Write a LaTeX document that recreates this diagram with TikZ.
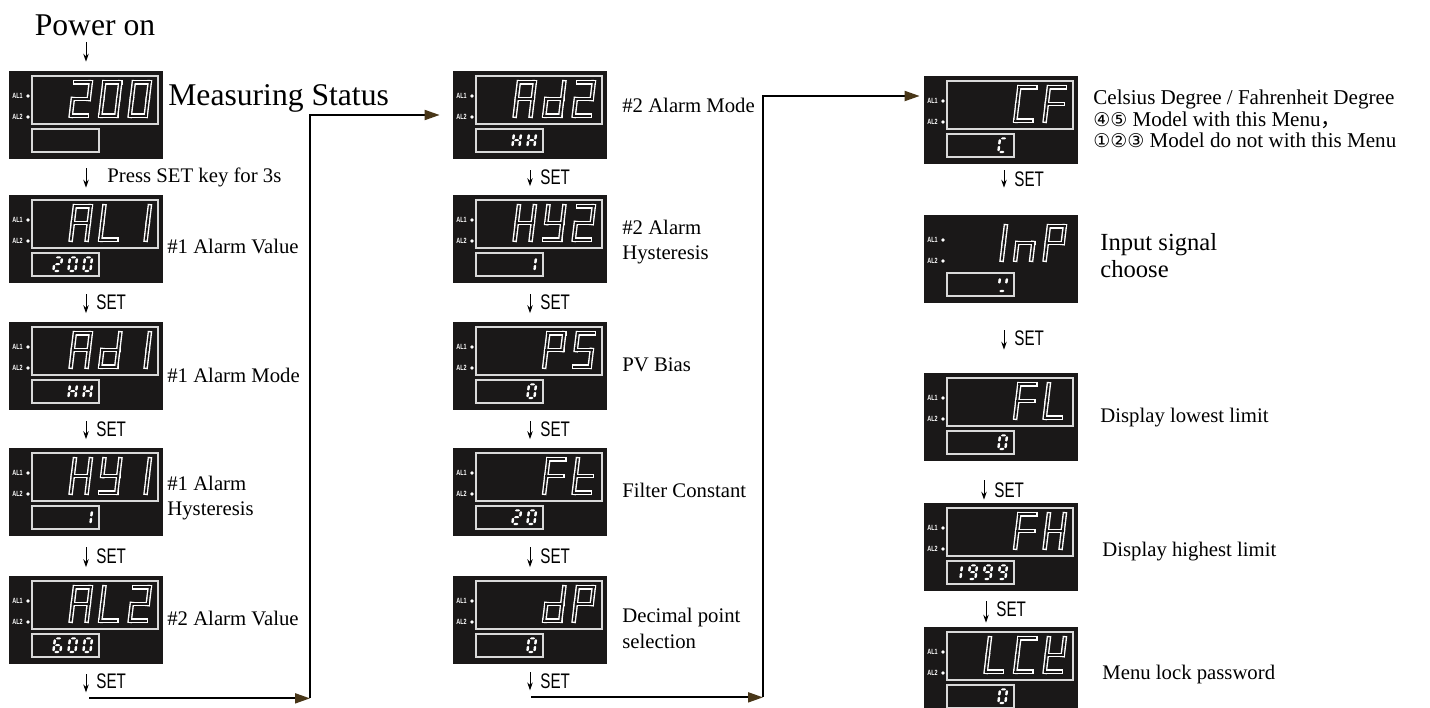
\documentclass[tikz,border=0pt]{standalone}
\usepackage{fontspec}
\setmainfont{Liberation Serif}
\newfontfamily\setfont[FakeStretch=0.72]{Liberation Sans}
\newfontfamily\circfont[Scale=0.9]{DejaVu Sans}
\newfontfamily\cjk{Noto Sans CJK SC}
\usepackage{tikz}
\usetikzlibrary{arrows.meta,positioning}
\definecolor{tipbrown}{RGB}{72,54,24}
\definecolor{panelblack}{RGB}{26,24,24}

% seven segment pieces, drawn on a 10 x 20 grid
% small digits: solid segments
\newcommand\hseg[3]{\fill[segm] (#1,#3) -- (#1+1.3,#3+1.3) -- (#2-1.3,#3+1.3) -- (#2,#3) -- (#2-1.3,#3-1.3) -- (#1+1.3,#3-1.3) -- cycle;}
\newcommand\vseg[3]{\fill[segm] (#1,#2) -- (#1+1.3,#2+1.3) -- (#1+1.3,#3-1.3) -- (#1,#3) -- (#1-1.3,#3-1.3) -- (#1-1.3,#2+1.3) -- cycle;}
\newcommand\dsega{\hseg{2.3}{7.7}{18.7}}
\newcommand\dsegb{\vseg{8.7}{10.8}{17.7}}
\newcommand\dsegc{\vseg{8.7}{2.3}{9.2}}
\newcommand\dsegd{\hseg{2.3}{7.7}{1.3}}
\newcommand\dsege{\vseg{1.3}{2.3}{9.2}}
\newcommand\dsegf{\vseg{1.3}{10.8}{17.7}}
\newcommand\dsegg{\hseg{2.3}{7.7}{10}}
% big digits: hollow strokes
\newcommand\bseg[4]{\draw[segm] (#1,#2) -- (#3,#4);}
\newcommand\bsega{\bseg{1.2}{18.8}{8.8}{18.8}}
\newcommand\bsegb{\bseg{8.8}{10}{8.8}{18.8}}
\newcommand\bsegc{\bseg{8.8}{1.2}{8.8}{10}}
\newcommand\bsegd{\bseg{1.2}{1.2}{8.8}{1.2}}
\newcommand\bsege{\bseg{1.2}{1.2}{1.2}{10}}
\newcommand\bsegf{\bseg{1.2}{10}{1.2}{18.8}}
\newcommand\bsegg{\bseg{1.2}{10}{8.8}{10}}
\newcommand\bigd[4]{\begin{scope}[shift={({#1+59+29.5*(#3-1)},{#2+47})},xslant=0.12,xscale=2.1,yscale=-1.9]
 \tikzset{segm/.style=bigouter}\foreach \s in {#4}{\csname bseg\s\endcsname}
 \tikzset{segm/.style=biginner}\foreach \s in {#4}{\csname bseg\s\endcsname}
 \end{scope}}
\newcommand\smalld[4]{\begin{scope}[shift={({#1+28+15*(#3-1)},{#2+77})},xslant=0.12,xscale=0.95,yscale=-0.78,segm/.style=smallseg]
 \foreach \s in {#4}{\csname dseg\s\endcsname}
 \end{scope}}
% panel: name, left, top, upper frame (1/0)
\newcommand\panel[4]{%
 \node[panel] (#1) at (#2+77,#3+44) {};
 \ifnum#4=1 \draw[frame] (#2+23,#3+5) rectangle (#2+149,#3+53);\fi
 \draw[frame] (#2+23,#3+58) rectangle (#2+90,#3+81);
 \node[tag] at (#2+8.5,#3+25) {AL1};
 \node[tag] at (#2+8.5,#3+46) {AL2};
 \fill[white] (#2+19,#3+25) circle[radius=0.38mm] (#2+19,#3+46) circle[radius=0.38mm];}

\begin{document}
\begin{tikzpicture}[
 x=0.2mm,y=-0.2mm,
 panel/.style={fill=panelblack,minimum width=30.8mm,minimum height=17.6mm,inner sep=0},
 frame/.style={draw=white!85!black,line width=0.75pt},
 bigouter/.style={draw=white,line width=2.6pt,line cap=rect},
 biginner/.style={draw=panelblack,line width=1pt,line cap=rect},
 smallseg/.style={fill=white},
 tag/.style={text=white,font=\setfont\bfseries\fontsize{4.3}{5}\selectfont,inner sep=0},
 lbl/.style={anchor=west,inner sep=0,align=left,font=\fontsize{11.8}{14.7}\selectfont},
 setlbl/.style={anchor=west,inner sep=0,xshift=2mm,font=\setfont\fontsize{12}{14}\selectfont},
 stepar/.style={-{Stealth[length=1.6mm,width=1.1mm]},line width=0.5pt},
 setar/.style={stepar,shorten <=2.2mm,shorten >=1.7mm},
 flow/.style={line width=1.1pt,-{Triangle[length=3mm,width=2mm,color=tipbrown]}}
]
\useasboundingbox (0,0) rectangle (1430,708);

% first column
\node[inner sep=0,font=\fontsize{18}{20}\selectfont] (power) at (95,25) {Power on};
\panel{meas}{9}{71}{1}
\bigd{9}{71}{1}{a,b,g,e,d}\bigd{9}{71}{2}{a,b,c,d,e,f}\bigd{9}{71}{3}{a,b,c,d,e,f}
\panel{al1}{9}{195}{1}
\bigd{9}{195}{1}{a,b,c,e,f,g}\bigd{9}{195}{2}{d,e,f}\bigd{9}{195}{3}{b,c}
\smalld{9}{195}{2}{a,b,g,e,d}\smalld{9}{195}{3}{a,b,c,d,e,f}\smalld{9}{195}{4}{a,b,c,d,e,f}
\panel{ad1}{9}{322}{1}
\bigd{9}{322}{1}{a,b,c,e,f,g}\bigd{9}{322}{2}{b,c,d,e,g}\bigd{9}{322}{3}{b,c}
\smalld{9}{322}{3}{b,c,e,f,g}\smalld{9}{322}{4}{b,c,e,f,g}
\panel{hy1}{9}{448}{1}
\bigd{9}{448}{1}{b,c,e,f,g}\bigd{9}{448}{2}{b,c,d,f,g}\bigd{9}{448}{3}{b,c}
\smalld{9}{448}{4}{b,c}
\panel{al2}{9}{576}{1}
\bigd{9}{576}{1}{a,b,c,e,f,g}\bigd{9}{576}{2}{d,e,f}\bigd{9}{576}{3}{a,b,g,e,d}
\smalld{9}{576}{2}{a,f,g,e,d,c}\smalld{9}{576}{3}{a,b,c,d,e,f}\smalld{9}{576}{4}{a,b,c,d,e,f}

% second column
\panel{ad2}{453}{71}{1}
\bigd{453}{71}{1}{a,b,c,e,f,g}\bigd{453}{71}{2}{b,c,d,e,g}\bigd{453}{71}{3}{a,b,g,e,d}
\smalld{453}{71}{3}{b,c,e,f,g}\smalld{453}{71}{4}{b,c,e,f,g}
\panel{hy2}{453}{195}{1}
\bigd{453}{195}{1}{b,c,e,f,g}\bigd{453}{195}{2}{b,c,d,f,g}\bigd{453}{195}{3}{a,b,g,e,d}
\smalld{453}{195}{4}{b,c}
\panel{ps}{453}{322}{1}
\bigd{453}{322}{2}{a,b,e,f,g}\bigd{453}{322}{3}{a,f,g,c,d}
\smalld{453}{322}{4}{a,b,c,d,e,f}
\panel{ft}{453}{448}{1}
\bigd{453}{448}{2}{a,e,f,g}\bigd{453}{448}{3}{d,e,f,g}
\smalld{453}{448}{3}{a,b,g,e,d}\smalld{453}{448}{4}{a,b,c,d,e,f}
\panel{dp}{453}{576}{1}
\bigd{453}{576}{2}{b,c,d,e,g}\bigd{453}{576}{3}{a,b,e,f,g}
\smalld{453}{576}{4}{a,b,c,d,e,f}

% third column
\panel{cf}{924}{76}{1}
\bigd{924}{76}{2}{a,d,e,f}\bigd{924}{76}{3}{a,e,f,g}
\smalld{924}{76}{4}{a,d,e,f}
\panel{inp}{924}{215}{0}
\bigd{924}{215}{1}{b,c}\bigd{924}{215}{2}{c,e,g}\bigd{924}{215}{3}{a,b,e,f,g}
\smalld{924}{215}{4}{b,d,f}
\panel{fl}{924}{373}{1}
\bigd{924}{373}{2}{a,e,f,g}\bigd{924}{373}{3}{d,e,f}
\smalld{924}{373}{4}{a,b,c,d,e,f}
\panel{fh}{924}{503}{1}
\bigd{924}{503}{2}{a,e,f,g}\bigd{924}{503}{3}{b,c,e,f,g}
\smalld{924}{503}{1}{b,c}\smalld{924}{503}{2}{a,b,c,d,f,g}\smalld{924}{503}{3}{a,b,c,d,f,g}\smalld{924}{503}{4}{a,b,c,d,f,g}
\panel{lck}{924}{627}{1}
\bigd{924}{627}{1}{d,e,f}\bigd{924}{627}{2}{a,d,e,f}\bigd{924}{627}{3}{b,d,e,f,g}
\smalld{924}{627}{4}{a,b,c,d,e,f}

% labels
\node[lbl,font=\fontsize{18}{20}\selectfont] (lmeas) at (168,98) {Measuring Status};
\node[lbl] (lal1) at (167,246) {\#1 Alarm Value};
\node[lbl] (lad1) at (167,375) {\#1 Alarm Mode};
\node[lbl] (lhy1) at (167,498) {\#1 Alarm\\Hysteresis};
\node[lbl] (lal2) at (167,618) {\#2 Alarm Value};
\node[lbl] (lad2) at (622,105) {\#2 Alarm Mode};
\node[lbl] (lhy2) at (622,242) {\#2 Alarm\\Hysteresis};
\node[lbl] (lps) at (622,365) {PV Bias};
\node[lbl] (lft) at (622,490) {Filter Constant};
\node[lbl] (ldp) at (622,628) {Decimal point\\selection};
\node[lbl,font=\fontsize{12}{12.3}\selectfont] (lcf) at (1093,119) {Celsius Degree / Fahrenheit Degree\\{\circfont ④⑤} Model with this Menu{\cjk ，}\\{\circfont ①②③} Model do not with this Menu};
\node[lbl,font=\fontsize{14}{15.3}\selectfont] (linp) at (1100,256) {Input signal\\choose};
\node[lbl] (lfl) at (1100,418) {Display lowest limit};
\node[lbl] (lfh) at (1102,552) {Display highest limit};
\node[lbl] (llck) at (1102,675) {Menu lock password};

% key presses
\draw[stepar,shorten <=1.2mm,shorten >=1.8mm] (power.south -| meas.north) -- (meas.north);
\draw[stepar,shorten <=1.8mm,shorten >=1.4mm] (meas.south) -- (al1.north)
 node[midway,anchor=west,inner sep=0,xshift=4.2mm,font=\fontsize{11.8}{14}\selectfont]{Press SET key for 3s};
\draw[setar] (al1.south) -- (ad1.north) node[setlbl,midway]{SET};
\draw[setar] (ad1.south) -- (hy1.north) node[setlbl,midway]{SET};
\draw[setar] (hy1.south) -- (al2.north) node[setlbl,midway]{SET};
\coordinate (e1) at ([yshift=-6.8mm]al2.south);
\draw[stepar,shorten <=2mm,shorten >=1.2mm] (al2.south) -- (e1) node[setlbl,midway]{SET};
\draw[setar] (ad2.south) -- (hy2.north) node[setlbl,midway]{SET};
\draw[setar] (hy2.south) -- (ps.north) node[setlbl,midway]{SET};
\draw[setar] (ps.south) -- (ft.north) node[setlbl,midway]{SET};
\draw[setar] (ft.south) -- (dp.north) node[setlbl,midway]{SET};
\coordinate (e2) at ([yshift=-6.6mm]dp.south);
\draw[stepar,shorten <=1.6mm,shorten >=1.4mm] (dp.south) -- (e2) node[setlbl,midway]{SET};
\draw[stepar,shorten <=1.2mm,shorten >=5.4mm] ([xshift=0.6mm]cf.south) -- ([xshift=0.6mm]inp.north) node[setlbl,pos=0.3]{SET};
\draw[stepar,shorten <=5.4mm,shorten >=4.6mm] ([xshift=0.6mm]inp.south) -- ([xshift=0.6mm]fl.north) node[setlbl,midway]{SET};
\draw[stepar,shorten <=3.8mm,shorten >=0.6mm] ([xshift=-3.4mm]fl.south) -- ([xshift=-3.4mm]fh.north) node[setlbl,pos=0.7]{SET};
\draw[stepar,shorten <=2mm,shorten >=0.8mm] ([xshift=-3mm]fh.south) -- ([xshift=-3mm]lck.north) node[setlbl,midway]{SET};

% column changes
\coordinate (k1) at ([xshift=44.8mm]e1);
\draw[flow] ([xshift=0.6mm]e1) -- (k1);
\draw[flow,shorten >=2.6mm] (k1) |- (ad2.west);
\coordinate (k2) at ([xshift=46.6mm]e2);
\draw[flow] ([xshift=0.2mm]e2) -- (k2);
\draw[flow,shorten >=0.8mm] (k2) |- ([yshift=4.8mm]cf.west);
\end{tikzpicture}
\end{document}
